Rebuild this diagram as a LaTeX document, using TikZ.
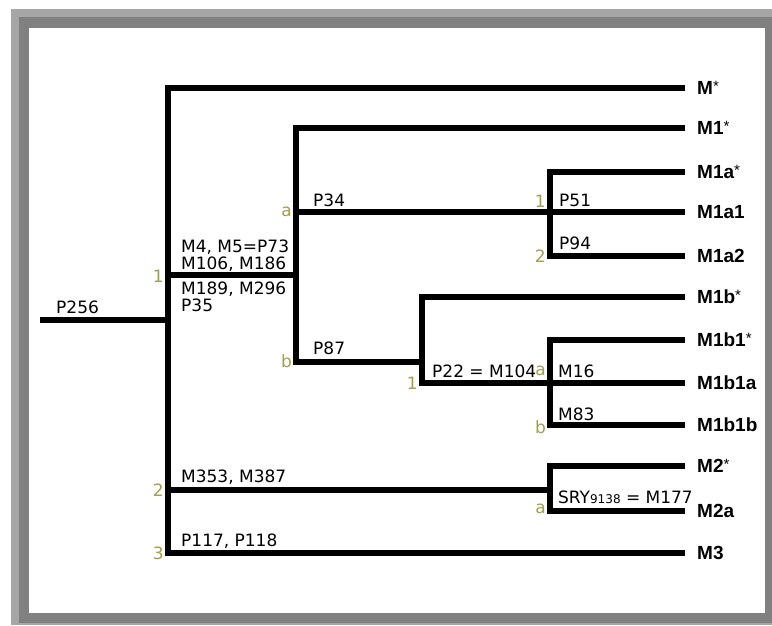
\documentclass[tikz,border=0pt]{standalone}
\usepackage{fontspec}
\setmainfont{DejaVu Sans}
\newfontfamily\leaffont{Liberation Sans}
\usepackage{tikz}
\definecolor{framelight}{RGB}{166,166,166}
\definecolor{framedark}{RGB}{128,128,128}
\definecolor{subolive}{RGB}{160,160,80}
\newcommand{\parastar}{\raisebox{3pt}{\mdseries\fontsize{15}{15}\selectfont *}}

\begin{document}
\begin{tikzpicture}[
    x=1pt, y=-1pt,
    branch/.style={line width=6pt},
    leaf/.style={anchor=west, inner xsep=12pt, inner ysep=0pt,
                 font=\leaffont\bfseries\fontsize{19}{19}\selectfont},
    snp/.style={anchor=base west, inner sep=0pt, align=left,
                font=\fontsize{17}{16.5}\selectfont},
    sub/.style={anchor=east, inner sep=0pt, text=subolive,
                font=\fontsize{17}{17}\selectfont}
]
    \useasboundingbox (0,0) rectangle (772,625);
    \fill[framelight] (11,9) rectangle (772,625);
    \fill[framedark] (19,17) rectangle (772,623);
    \fill[white] (29,28) rectangle (765,613);

    % junctions
    \coordinate (root) at (40,320);
    \coordinate (c0) at (168,320);
    \coordinate (c1) at (296,275);
    \coordinate (c1a) at (550,212);
    \coordinate (c1b) at (422,362);
    \coordinate (c1b1) at (550,383);
    \coordinate (c2) at (550,490);

    % haplogroups
    \node[leaf] (Ms) at (685,88) {M\parastar};
    \node[leaf] (M1s) at (685,128) {M1\parastar};
    \node[leaf] (M1as) at (685,172) {M1a\parastar};
    \node[leaf] (M1a1) at (685,212) {M1a1};
    \node[leaf] (M1a2) at (685,256) {M1a2};
    \node[leaf] (M1bs) at (685,297) {M1b\parastar};
    \node[leaf] (M1b1s) at (685,340) {M1b1\parastar};
    \node[leaf] (M1b1a) at (685,383) {M1b1a};
    \node[leaf] (M1b1b) at (685,425) {M1b1b};
    \node[leaf] (M2s) at (685,466) {M2\parastar};
    \node[leaf] (M2a) at (685,511) {M2a};
    \node[leaf] (M3) at (685,553) {M3};

    % tree
    \draw[branch] (root) -- (c0);
    \draw[branch] (Ms) -| (c0) |- (M3);
    \draw[branch] (c0 |- c1) -- (c1);
    \draw[branch] (M1s) -| (c1) |- (c1b);
    \draw[branch] (c1 |- c1a) -- (M1a1);
    \draw[branch] (M1as) -| (c1a) |- (M1a2);
    \draw[branch] (M1bs) -| (c1b) |- (c1b1);
    \draw[branch] (c1b1) -- (M1b1a);
    \draw[branch] (M1b1s) -| (c1b1) |- (M1b1b);
    \draw[branch] (c0 |- c2) -- (c2);
    \draw[branch] (M2s) -| (c2) |- (M2a);

    % markers
    \node[snp] (p256) at (56,313) {P256};
    \node[snp] (m4) at (181,269) {M4, M5=P73\\M106, M186};
    \node[snp] (m189) at (181,311) {M189, M296\\P35};
    \node[snp] (p34) at (313,206) {P34};
    \node[snp] (p51) at (559,206) {P51};
    \node[snp] (p94) at (559,249) {P94};
    \node[snp] (p87) at (313,354) {P87};
    \node[snp] (p22) at (432,377) {P22 = M104};
    \node[snp] (m16) at (558,377) {M16};
    \node[snp] (m83) at (558,420) {M83};
    \node[snp] (m353) at (181,482) {M353, M387};
    \node[snp] (sry) at (558,503) {SRY{\fontsize{12}{12}\selectfont 9138} = M177};
    \node[snp] (p117) at (181,546) {P117, P118};

    % subclade letters
    \node[sub] (s1) at (164,276) {1};
    \node[sub] (s2) at (164,490) {2};
    \node[sub] (s3) at (164,553) {3};
    \node[sub] (s1a) at (292,212) {a};
    \node[sub] (s1b) at (292,361) {b};
    \node[sub] (s1a1) at (546,201) {1};
    \node[sub] (s1a2) at (546,256) {2};
    \node[sub] (s1b1) at (418,383) {1};
    \node[sub] (s1b1a) at (546,371) {a};
    \node[sub] (s1b1b) at (546,427) {b};
    \node[sub] (s2a) at (546,509) {a};
\end{tikzpicture}
\end{document}
